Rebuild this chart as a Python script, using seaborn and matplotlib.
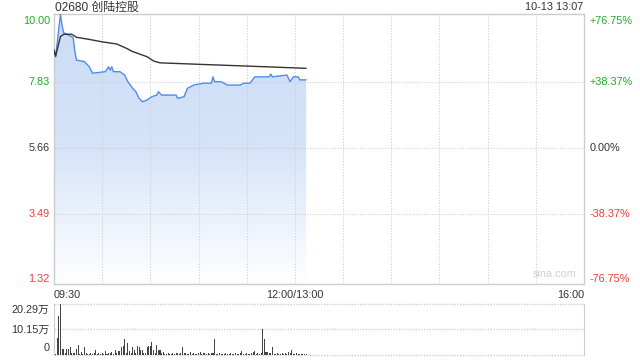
import numpy as np
import pandas as pd
import matplotlib
matplotlib.use("Agg")
import matplotlib.pyplot as plt
import seaborn as sns
from matplotlib.colors import LinearSegmentedColormap

sns.set_style("white")
plt.rcParams['font.family'] = ['Liberation Sans', 'Noto Sans CJK SC', 'DejaVu Sans']

# ---------------- data ----------------
title = "02680 创陆控股"
stamp = "10-13 13:07"
prev_close = 5.66
price_ticks = [10.00, 7.83, 5.66, 3.49, 1.32]
pct_labels = ["+76.75%", "+38.37%", "0.00%", "-38.37%", "-76.75%"]
time_labels = ["09:30", "12:00/13:00", "16:00"]
time_positions = [0, 150, 330]

price_min = [0, 1, 4, 5, 6, 11, 12, 13, 14, 19, 22, 24, 32, 34, 35, 36, 37, 41, 44, 46,
             49, 51, 53, 55, 58, 61, 64, 65, 67, 76, 77, 81, 83, 87, 93, 98, 99, 100,
             104, 108, 116, 118, 122, 125, 134, 135, 136, 145, 147, 149, 152, 153, 157]
price_val = [8.88, 8.66, 10.05, 9.70, 9.45, 9.32, 9.27, 8.83, 8.55, 8.50, 8.33, 8.12,
             8.17, 8.33, 8.22, 8.33, 8.17, 8.17, 8.06, 7.84, 7.62, 7.51, 7.29, 7.18,
             7.24, 7.35, 7.40, 7.51, 7.40, 7.40, 7.29, 7.35, 7.62, 7.73, 7.79, 7.79,
             8.00, 7.84, 7.84, 7.73, 7.73, 7.79, 7.79, 8.00, 8.00, 8.09, 8.00, 8.06,
             7.84, 8.00, 8.00, 7.90, 7.90]

avg_min = [0, 1, 4, 6, 11, 14, 22, 30, 39, 45, 49, 58, 62, 66, 91, 122, 157]
avg_val = [8.88, 8.68, 9.32, 9.40, 9.40, 9.30, 9.23, 9.15, 9.08, 8.94, 8.83, 8.66,
           8.52, 8.46, 8.41, 8.35, 8.28]

vol_ticks = [20.29, 10.15, 0]
vol_tick_labels = ["20.29万", "10.15万", "0"]
vol_wan = [0.8, 0.5, 6.9, 15.5, 20.29, 2.3, 2.5, 0.6, 2.5, 2.5,
           3.3, 0.7, 0.9, 0.6, 2.3, 4.1, 0.5, 1.2, 0.4, 3.0,
           0.6, 0.5, 0.4, 0.7, 0.5, 0.6, 2.0, 0.5, 0.8, 0.4,
           0.6, 0.5, 1.6, 0.5, 0.7, 0.6, 1.2, 0.5, 2.0, 0.8,
           1.6, 1.6, 3.0, 3.6, 6.2, 0.9, 4.9, 1.6, 0.7, 3.0,
           2.0, 0.6, 3.6, 3.0, 2.0, 2.0, 0.8, 0.6, 3.0, 3.6,
           3.6, 5.2, 2.0, 0.7, 3.8, 2.0, 2.0, 0.6, 1.2, 0.5,
           0.4, 0.6, 0.5, 0.4, 0.7, 0.5, 0.6, 0.8, 0.5, 0.9,
           3.2, 0.6, 0.8, 0.5, 0.4, 1.2, 0.5, 0.6, 0.4, 0.5,
           0.7, 1.2, 0.5, 0.6, 0.8, 0.5, 0.6, 0.4, 0.7, 0.8,
           6.5, 0.5, 0.4, 0.6, 0.5, 0.4, 0.5, 0.6, 0.4, 0.5,
           0.7, 0.4, 0.5, 0.6, 0.4, 0.5, 0.6, 1.6, 0.5, 0.4,
           0.6, 0.5, 0.4, 0.7, 1.2, 1.6, 0.5, 0.6, 0.4, 0.8,
           10.2, 6.5, 1.2, 1.2, 0.9, 0.6, 3.3, 0.5, 0.4, 0.6,
           0.5, 0.4, 0.6, 0.5, 0.7, 0.5, 1.2, 0.6, 2.0, 0.5,
           0.4, 0.6, 0.5, 0.4, 0.5, 0.3, 0.4, 0.4]
vol_min = list(range(len(vol_wan)))

# ---------------- colours ----------------
GREEN = "#1fae1f"
RED = "#f03a3a"
DARK = "#333333"
BORDER = "#cccccc"
GRID = "#cfcfcf"
LINE_BLUE = "#4f8cec"

W, H = 640, 360
fig = plt.figure(figsize=(6.4, 3.6), dpi=100)

def rect(l, t, r, b):
    return [l / W, 1 - b / H, (r - l) / W, (b - t) / H]

ax = fig.add_axes(rect(54, 14, 584, 284))
axv = fig.add_axes(rect(54, 304, 584, 355))

# ---- main chart ----
ypp = (price_ticks[0] - price_ticks[-1]) / 264.0
ax.set_xlim(0, 330)
ax.set_ylim(price_ticks[-1] - 4 * ypp, price_ticks[0] + 2 * ypp)

pdf = pd.DataFrame({"m": price_min, "p": price_val})
adf = pd.DataFrame({"m": avg_min, "p": avg_val})

# gradient fill under the price line
ymin_ax = ax.get_ylim()[0]
poly = ax.fill_between(pdf["m"], pdf["p"], ymin_ax, color="none", lw=0)
cmap = LinearSegmentedColormap.from_list("g", ["#ffffff", "#d6e4f9", "#cbdcf6"])
grad = np.linspace(0, 1, 256).reshape(-1, 1)
im = ax.imshow(grad, cmap=cmap, aspect="auto", origin="lower",
               extent=[0, 330, ymin_ax, max(price_val)], zorder=1)
path = poly.get_paths()[0]
im.set_clip_path(path, transform=ax.transData)

sns.lineplot(data=pdf, x="m", y="p", ax=ax, color=LINE_BLUE, lw=1.0, zorder=3)
sns.lineplot(data=adf, x="m", y="p", ax=ax, color=DARK, lw=1.0, zorder=3)

for gx in range(30, 330, 30):
    ax.axvline(gx, color=GRID, lw=0.8, ls=(0, (1, 1.5)), zorder=2)
for gy in price_ticks[1:-1]:
    ax.axhline(gy, color=GRID, lw=0.8, ls=(0, (1, 1.5)), zorder=2)

ax.set_xlabel("")
ax.set_ylabel("")
ax.set_xticks([])
ax.set_yticks([])
for s in ax.spines.values():
    s.set_color(BORDER)
    s.set_linewidth(1.0)

ycols = [GREEN, GREEN, DARK, RED, RED]
fs = 7.8
for i, (v, lab, pl, c) in enumerate(zip(price_ticks, [f"{t:.2f}" for t in price_ticks], pct_labels, ycols)):
    va = "top" if i == 0 else "center"
    yv = v if i < len(price_ticks) - 1 else v + 1.5 * ypp
    ax.annotate(lab, xy=(0, yv), xycoords=("axes fraction", "data"), xytext=(-3, 0),
                textcoords="offset points", ha="right", va=va, color=c, fontsize=fs)
    ax.annotate(pl, xy=(1, yv), xycoords=("axes fraction", "data"), xytext=(4, 0),
                textcoords="offset points", ha="left", va=va, color=c, fontsize=fs)

for lab, pos, ha in zip(time_labels, time_positions, ["left", "center", "right"]):
    ax.annotate(lab, xy=(pos, 0), xycoords=("data", "axes fraction"), xytext=(0, -4),
                textcoords="offset points", ha=ha, va="top", color=DARK, fontsize=fs)

ax.text(0.985, 0.02, "sina.com", transform=ax.transAxes, ha="right", va="bottom",
        color="#d0d0d0", fontsize=fs)

fig.text(55 / W, 1 - 7.5 / H, title, ha="left", va="center", color=DARK, fontsize=8.6,
         family=['Liberation Sans', 'Noto Sans CJK SC'])
fig.text(583 / W, 1 - 7.5 / H, stamp, ha="right", va="center", color=DARK, fontsize=fs)

# ---- volume chart ----
vdf = pd.DataFrame({"m": vol_min, "v": vol_wan})
sns.barplot(data=vdf, x="m", y="v", ax=axv, native_scale=True, color="#444444",
            width=0.65, errorbar=None, saturation=1, linewidth=0)
axv.set_xlim(0, 330)
axv.set_ylim(0, vol_ticks[0])
axv.set_xlabel("")
axv.set_ylabel("")
axv.set_xticks([])
axv.set_yticks([])
for gy in vol_ticks:
    axv.axhline(gy, color=GRID, lw=1.0, ls=(0, (1, 1)), zorder=0, clip_on=False)
axv.spines["top"].set_visible(False)
axv.spines["bottom"].set_visible(False)
axv.spines["left"].set_color(BORDER)
axv.spines["right"].set_color(BORDER)

for i, (v, lab) in enumerate(zip(vol_ticks, vol_tick_labels)):
    if i == 0:
        va, yv = "top", v - 0.3
    elif i == len(vol_ticks) - 1:
        va, yv = "bottom", v + 0.6
    else:
        va, yv = "center", v
    axv.annotate(lab, xy=(0, yv), xycoords=("axes fraction", "data"), xytext=(-3, 0),
                 textcoords="offset points", ha="right", va=va, color=DARK, fontsize=fs)

fig.savefig("out.png", dpi=100)
